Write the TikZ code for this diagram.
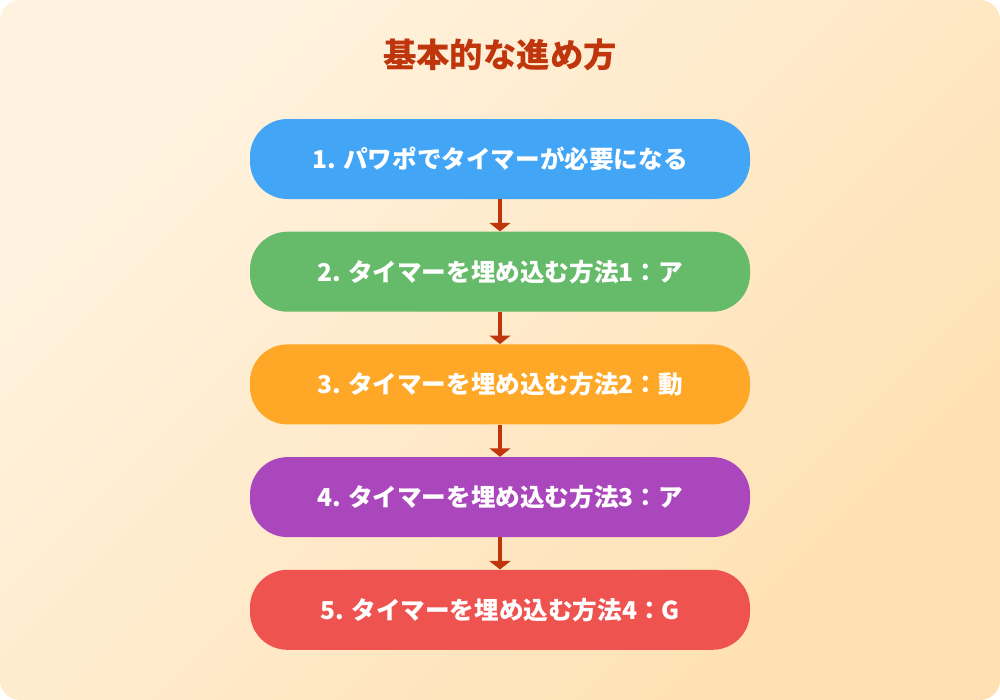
\documentclass[tikz,border=0pt]{standalone}
\usepackage{fontspec}
\setmainfont{Noto Sans CJK JP}
\usetikzlibrary{positioning,arrows.meta}
\definecolor{bgtop}{HTML}{FFF3E0}
\definecolor{bgbot}{HTML}{FFE0B2}
\definecolor{titlered}{HTML}{BF360C}
\definecolor{stepblue}{HTML}{42A5F5}
\definecolor{stepgreen}{HTML}{66BB6A}
\definecolor{steporange}{HTML}{FFA726}
\definecolor{steppurple}{HTML}{AB47BC}
\definecolor{stepred}{HTML}{EF5350}
\tikzset{
  stepbox/.style={minimum width=10cm, minimum height=1.6cm, rounded corners=0.75cm,
    text=white, font=\fontsize{14}{16}\selectfont\bfseries, inner sep=0pt},
  flow/.style={draw=titlered, line width=2.3pt, -{Triangle[width=0.42cm,length=0.17cm]}}
}
\begin{document}
\begin{tikzpicture}
  \useasboundingbox (0,0) rectangle (20,-14);
  \shade[rounded corners=0.4cm, top color=bgtop, bottom color=bgbot, shading angle=45] (0,0) rectangle (20,-14);
  \node[text=titlered, font=\fontsize{19}{22}\selectfont\bfseries] (title) at (10,-1.1) {基本的な進め方};
  \node[stepbox, fill=stepblue] (s1) at (10,-3.18) {1. パワポでタイマーが必要になる};
  \node[stepbox, fill=stepgreen, below=0.64cm of s1] (s2) {2. タイマーを埋め込む方法1：ア};
  \node[stepbox, fill=steporange, below=0.64cm of s2] (s3) {3. タイマーを埋め込む方法2：動};
  \node[stepbox, fill=steppurple, below=0.64cm of s3] (s4) {4. タイマーを埋め込む方法3：ア};
  \node[stepbox, fill=stepred, below=0.64cm of s4] (s5) {5. タイマーを埋め込む方法4：G};
  \foreach \a/\b in {s1/s2,s2/s3,s3/s4,s4/s5}
    \draw[flow] (\a) -- (\b);
\end{tikzpicture}
\end{document}
